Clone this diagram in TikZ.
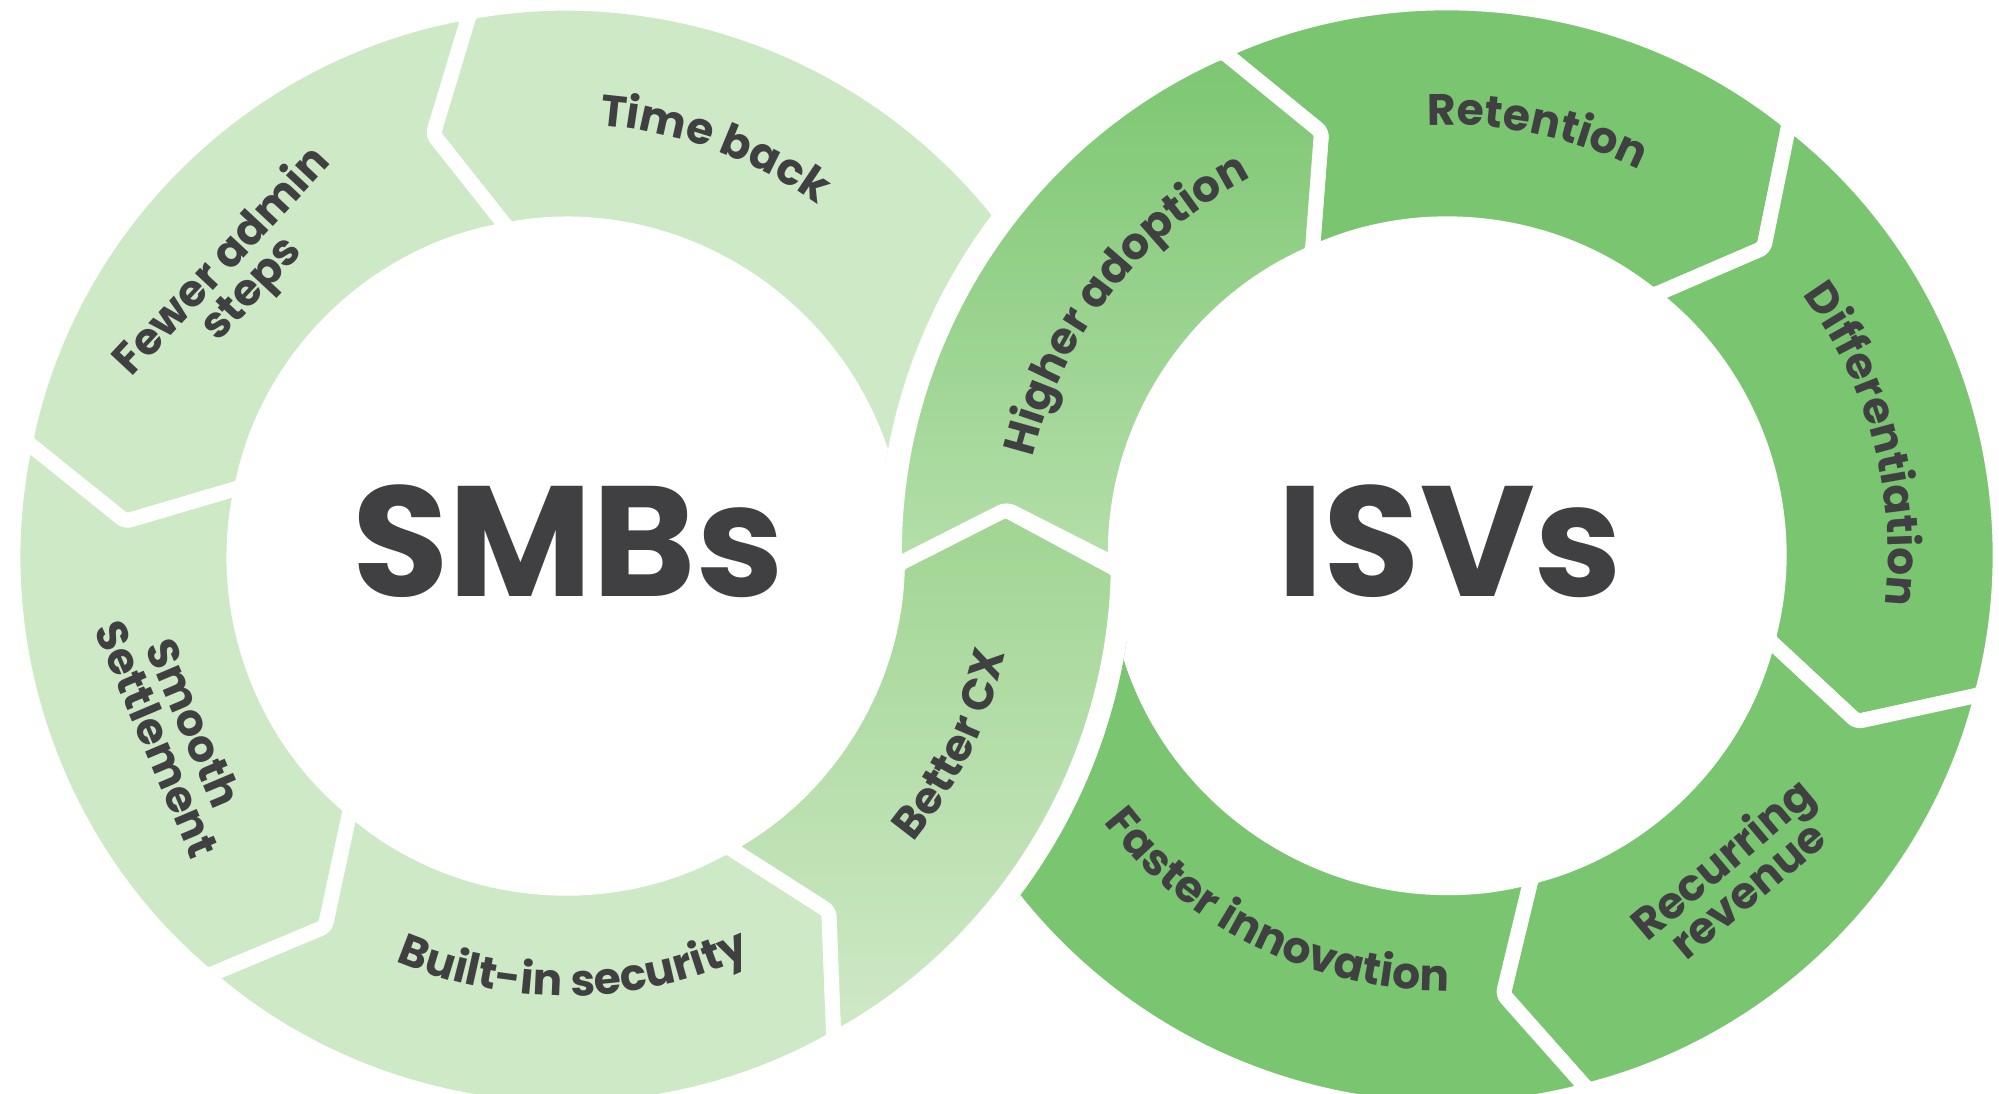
\documentclass[tikz,border=0pt]{standalone}
\usepackage{fontspec}
\newfontfamily\pop{Poppins}
\usetikzlibrary{calc,decorations.text}
\definecolor{lg}{RGB}{205,233,198}
\definecolor{dg}{RGB}{122,198,112}
\definecolor{txt}{RGB}{64,64,66}
\definecolor{hatop}{RGB}{124,198,113}
\definecolor{habot}{RGB}{181,223,170}
\definecolor{bctop}{RGB}{160,213,146}
\definecolor{bcbot}{RGB}{207,233,199}
\newcommand{\lb}{\pop\bfseries\fontsize{44pt}{40pt}\selectfont}
\newcommand{\ringout}{552.5pt}
\newcommand{\ringin}{331.5pt}
\newcommand{\ringmid}{442pt}
\newcommand{\ringdl}{7.5}
\tikzset{
  ringseg/.style n args={4}{insert path={($(#1)+(#2:\ringout)$) arc[start angle=#2, end angle=#3, radius=\ringout] -- ($(#1)+({#3+(#4)*\ringdl}:\ringmid)$) -- ($(#1)+(#3:\ringin)$) arc[start angle=#3, end angle=#2, radius=\ringin] -- ($(#1)+({#2+(#4)*\ringdl}:\ringmid)$) -- cycle}},
  segbox/.style={draw=white, line width=15pt, line join=round, rounded corners=5pt},
  lab/.style={text=txt, font=\lb, align=center, inner sep=0pt},
  big/.style={text=txt, font=\pop\bfseries\fontsize{157pt}{160pt}\selectfont, inner sep=0pt, anchor=base},
  arctext/.style={decorate, decoration={text along path, text={|\lb|#1}, text align=center, text color=txt}}
}
\begin{document}
\begin{tikzpicture}[x=1pt,y=1pt]
\useasboundingbox (0,0) rectangle (1999,1094);
\coordinate (L) at (566,538);
\coordinate (R) at (1447,538);
% left ring
\begin{scope}
  \clip (-200,-200) -- (-200,1300) -- (2200,1300) -- (2200,-200) -- cycle ($(R)+(569pt,0pt)$) arc[start angle=0, end angle=360, radius=569pt];
  \path[fill=lg, segbox, ringseg={L}{5}{100}{1}];
\end{scope}
\path[fill=lg, segbox, ringseg={L}{100}{168}{1}];
\path[fill=lg, segbox, ringseg={L}{168}{229.5}{1}];
\path[fill=lg, segbox, ringseg={L}{229.5}{299}{1}];
% right ring
\path[fill=dg, segbox, ringseg={R}{114}{51.7}{-1}];
\path[fill=dg, segbox, ringseg={R}{51.7}{-14.5}{-1}];
\path[fill=dg, segbox, ringseg={R}{-14.5}{-75.2}{-1}];
\begin{scope}
  \clip (-200,-200) -- (-200,1300) -- (2200,1300) -- (2200,-200) -- cycle ($(L)+(567pt,0pt)$) arc[start angle=0, end angle=360, radius=567pt];
  \path[fill=dg, segbox, ringseg={R}{284.8}{190}{-1}];
\end{scope}
% crossing segments
\path[top color=hatop, bottom color=habot, segbox, ringseg={R}{181.5}{114}{-1}];
\path[top color=bctop, bottom color=bcbot, segbox, ringseg={L}{299}{358.5}{1}];
% curved labels
\path[arctext={Time back}] ($(L)+(130:432pt)$) arc[start angle=130, end angle=10, radius=432pt];
\path[arctext={Built-in security}] ($(L)+(211:440pt)$) arc[start angle=211, end angle=331, radius=440pt];
\path[arctext={Better CX}] ($(L)+(274:450pt)$) arc[start angle=274, end angle=394, radius=450pt];
\path[arctext={Higher adoption}] ($(R)+(202:426pt)$) arc[start angle=202, end angle=82, radius=426pt];
\path[arctext={Retention}] ($(R)+(138:431pt)$) arc[start angle=138, end angle=18, radius=431pt];
\path[arctext={Differentiation}] ($(R)+(75:441pt)$) arc[start angle=75, end angle=-45, radius=441pt];
\path[arctext={Faster innovation}] ($(R)+(184:435pt)$) arc[start angle=184, end angle=304, radius=435pt];
% straight labels
\node[lab, rotate=47] (fewer) at (238,818) {Fewer admin\\steps};
\node[lab, rotate=-67] (smooth) at (176,363) {Smooth\\Settlement};
\node[lab, rotate=40] (recur) at (1734,221) {Recurring\\revenue};
% centre titles
\node[big] (smb) at (568,497) {SMBs};
\node[big] (isv) at (1450,497) {ISVs};
\end{tikzpicture}
\end{document}
